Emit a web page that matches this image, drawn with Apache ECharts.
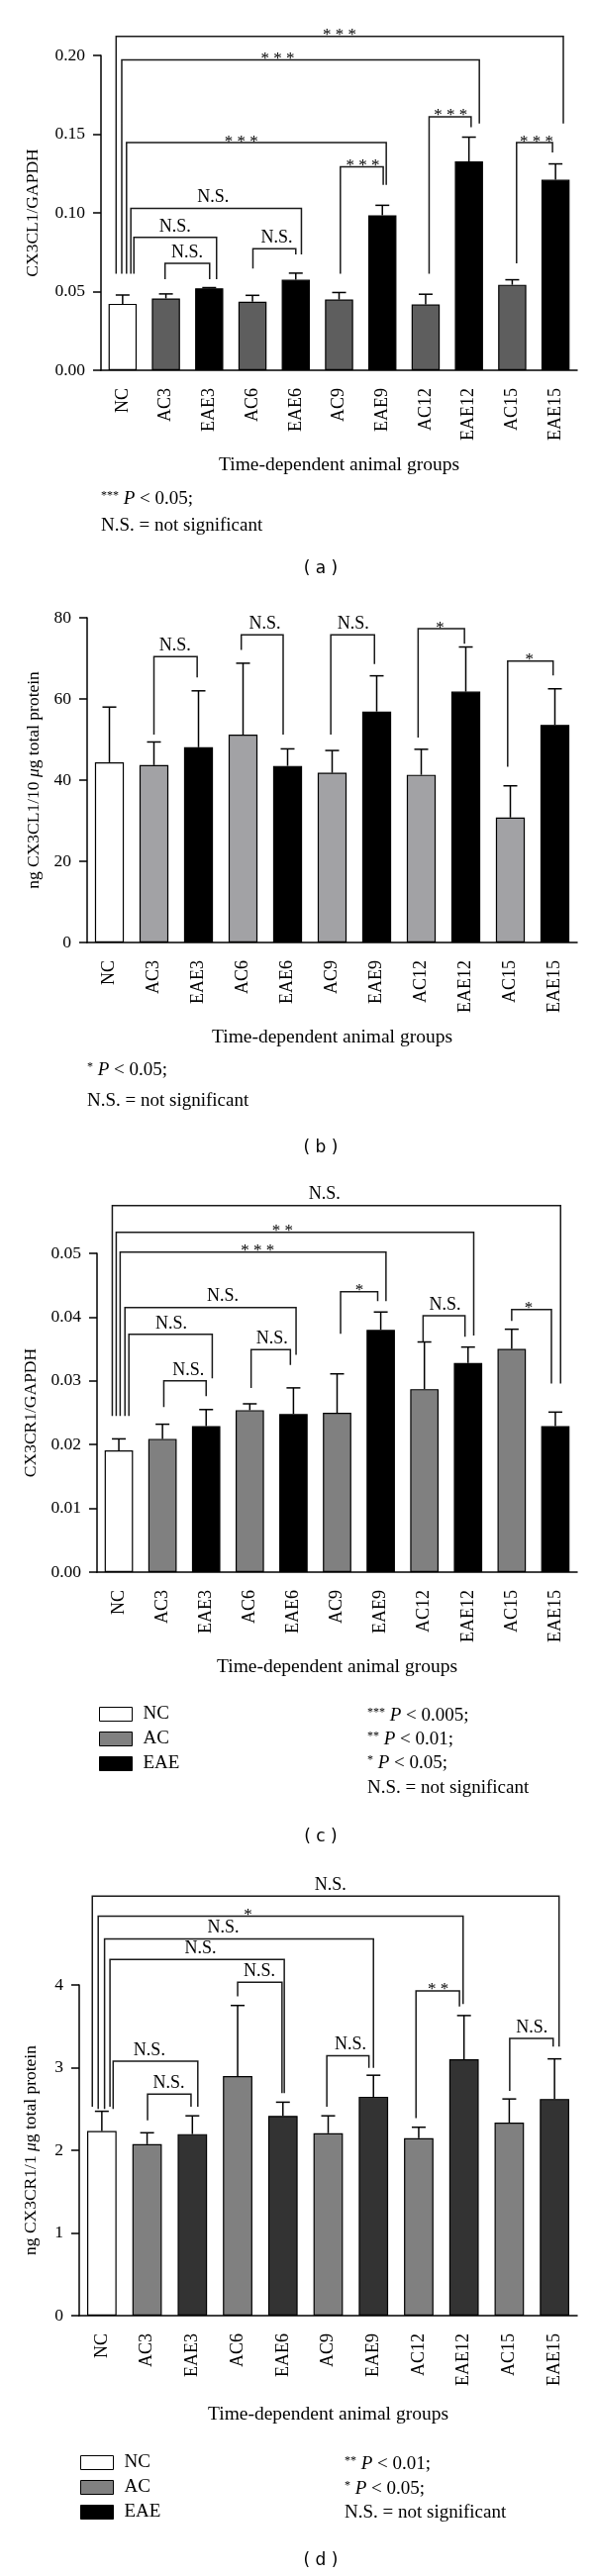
<!DOCTYPE html>
<html><head><meta charset="utf-8">
<script src="https://cdn.jsdelivr.net/npm/echarts@6/dist/echarts.min.js"></script>
<style>html,body{margin:0;padding:0;background:#fff}#c{width:600px;height:2602px}</style>
</head><body><div id="c"></div>
<script>
const categories = ['NC','AC3','EAE3','AC6','EAE6','AC9','EAE9','AC12','EAE12','AC15','EAE15'];
const groupOf = ['NC','AC','EAE','AC','EAE','AC','EAE','AC','EAE','AC','EAE'];
const groups = ['NC','AC','EAE'];

// (a) CX3CL1/GAPDH
const aValues = [0.0422,0.0456,0.0521,0.0435,0.0575,0.0449,0.0985,0.0418,0.1327,0.0543,0.1210];
const aErrTop = [0.0478,0.0485,0.0525,0.0476,0.0617,0.0494,0.1048,0.0483,0.1481,0.0575,0.1311];
// [leftPos, rightPos, top, leftEnd, rightEnd, labelPos, label]  (positions in category units)
const aBrackets = [
  [-0.15,10.18,0.2121,0.0613,0.1567,5.01,'***'],
  [-0.02,8.24,0.1971,0.0613,0.1567,3.58,'***'],
  [0.09,6.09,0.1446,0.0613,0.1178,2.74,'***'],
  [0.19,4.13,0.1028,0.0613,0.0736,2.09,'N.S.'],
  [0.26,2.17,0.0844,0.0613,0.0579,1.21,'N.S.'],
  [0.98,2.01,0.0680,0.0579,0.0579,1.49,'N.S.'],
  [3.01,4.00,0.0772,0.0646,0.0736,3.56,'N.S.'],
  [5.03,6.02,0.1293,0.0613,0.1178,5.55,'***'],
  [7.08,8.05,0.1610,0.0613,0.1544,7.58,'***'],
  [9.10,9.93,0.1446,0.0680,0.1383,9.56,'***']
];

// (b) ng CX3CL1 / 10 ug total protein
const bValues = [44.4,43.7,48.1,51.2,43.5,41.8,56.9,41.3,61.8,30.8,53.6];
const bErrTop = [58.0,49.4,62.0,68.8,47.7,47.3,65.7,47.6,72.8,38.6,62.5];
const bBrackets = [
  [1.00,1.97,70.4,51.2,65.3,1.47,'N.S.'],
  [2.96,3.90,75.8,72.1,51.2,3.49,'N.S.'],
  [4.97,5.95,75.8,51.2,68.6,5.47,'N.S.'],
  [6.93,7.97,77.3,50.5,73.6,7.42,'*'],
  [8.94,9.96,69.3,43.3,65.8,9.43,'*']
];

// (c) CX3CR1/GAPDH
const cValues = [0.0191,0.0209,0.0229,0.0254,0.0248,0.0250,0.0380,0.0287,0.0328,0.0350,0.0229];
const cErrTop = [0.0209,0.0232,0.0255,0.0264,0.0289,0.0311,0.0408,0.0361,0.0353,0.0381,0.0251];
const cBrackets = [
  [-0.15,10.12,0.0575,0.0245,0.0296,4.71,'N.S.'],
  [-0.06,8.13,0.0533,0.0245,0.0371,3.75,'**'],
  [0.03,6.12,0.0502,0.0245,0.0425,3.18,'***'],
  [0.14,4.06,0.0415,0.0245,0.0341,2.38,'N.S.'],
  [0.23,2.14,0.0373,0.0245,0.0304,1.20,'N.S.'],
  [1.03,2.00,0.0300,0.0259,0.0276,1.59,'N.S.'],
  [3.03,3.93,0.0349,0.0289,0.0325,3.51,'N.S.'],
  [5.08,5.93,0.0440,0.0374,0.0425,5.51,'*'],
  [6.97,7.93,0.0402,0.0361,0.0369,7.47,'N.S.'],
  [9.00,9.91,0.0412,0.0394,0.0296,9.39,'*']
];

// (d) ng CX3CR1 / 1 ug total protein
const dValues = [2.234,2.074,2.196,2.897,2.417,2.207,2.648,2.146,3.101,2.334,2.621];
const dErrTop = [2.472,2.212,2.417,3.752,2.582,2.417,2.908,2.279,3.630,2.621,3.106];
const dBrackets = [
  [-0.21,10.10,5.076,2.527,3.255,5.05,'N.S.'],
  [-0.08,7.98,4.833,2.500,3.768,3.23,'*'],
  [0.06,6.00,4.557,2.500,2.996,2.68,'N.S.'],
  [0.18,4.03,4.309,2.527,2.692,2.18,'N.S.'],
  [3.00,3.98,4.033,3.862,2.692,3.48,'N.S.'],
  [0.25,2.12,3.079,2.500,2.527,1.05,'N.S.'],
  [1.01,1.97,2.681,2.361,2.527,1.48,'N.S.'],
  [4.97,5.90,3.145,2.527,2.996,5.49,'N.S.'],
  [6.94,7.90,3.928,2.389,3.741,7.43,'**'],
  [9.01,9.97,3.354,2.720,3.255,9.50,'N.S.']
];

const yTicksA = [0, 0.2, 0.05];
const yTicksB = [0, 80, 20];
const yTicksC = [0, 0.05, 0.01];
const yTicksD = [0, 4, 1];

const SERIF = '"Liberation Serif", "Times New Roman", serif';
const SANS = '"DejaVu Sans", sans-serif';

const panels = [
  {values:aValues, err:aErrTop, brackets:aBrackets, ticks:yTicksA, dec:2,
   grid:{left:102, top:56, width:481, height:318}, name:'CX3CL1/GAPDH', nameGap:60, xNameGap:86,
   colors:{NC:'#ffffff', AC:'#5e5e5e', EAE:'#000000'}},
  {values:bValues, err:bErrTop, brackets:bBrackets, ticks:yTicksB, dec:0,
   grid:{left:88, top:624, width:495, height:328}, name:'ng CX3CL1/10 {i|μ}g total protein', nameGap:45, xNameGap:86,
   colors:{NC:'#ffffff', AC:'#a2a2a5', EAE:'#000000'}},
  {values:cValues, err:cErrTop, brackets:cBrackets, ticks:yTicksC, dec:2,
   grid:{left:98, top:1266, width:485, height:322}, name:'CX3CR1/GAPDH', nameGap:58, xNameGap:86,
   colors:{NC:'#ffffff', AC:'#808080', EAE:'#000000'}},
  {values:dValues, err:dErrTop, brackets:dBrackets, ticks:yTicksD, dec:0,
   grid:{left:80, top:2005, width:503, height:334}, name:'ng CX3CR1/1 {i|μ}g total protein', nameGap:40, xNameGap:90,
   colors:{NC:'#ffffff', AC:'#808080', EAE:'#333333'}}
];

function errRender(params, api){
  const i = api.value(0), v = api.value(1), e = api.value(2);
  const p0 = api.coord([i, v]); const p1 = api.coord([i, e]);
  return {type:'group', children:[
    {type:'line', shape:{x1:p0[0], y1:p0[1], x2:p1[0], y2:p1[1]}, style:{stroke:'#000', lineWidth:1.5}},
    {type:'line', shape:{x1:p1[0]-7, y1:p1[1], x2:p1[0]+7, y2:p1[1]}, style:{stroke:'#000', lineWidth:1.5}}
  ]};
}
function bracketRender(list){
  return function(params, api){
    const b = list[params.dataIndex];
    const bw = api.size([1,0])[0];
    const x0 = api.coord([0, 0])[0];
    const x1 = x0 + b[0]*bw, x2 = x0 + b[1]*bw;
    const yt = api.coord([0, b[2]])[1];
    const yl = api.coord([0, b[3]])[1];
    const yr = api.coord([0, b[4]])[1];
    const star = b[6].indexOf('*') >= 0;
    return {type:'group', children:[
      {type:'polyline', shape:{points:[[x1,yl],[x1,yt],[x2,yt],[x2,yr]]}, style:{stroke:'#1a1a1a', lineWidth:1.5, fill:null}},
      {type:'text', x: x0 + b[5]*bw, y: yt + (star ? -1 : -11),
       style:{text: star ? b[6].split('').join(' ') : b[6], align:'center', verticalAlign:'middle',
              fontFamily: SERIF, fontSize: star ? 17 : 18, fill:'#000'}}
    ]};
  };
}

const grids = [], xAxes = [], yAxes = [], series = [];
panels.forEach((p, k) => {
  grids.push(Object.assign({containLabel:false}, p.grid));
  xAxes.push({type:'category', gridIndex:k, data:categories,
    name:'Time-dependent animal groups', nameLocation:'middle', nameGap:p.xNameGap,
    nameTextStyle:{fontFamily:SERIF, fontSize:19.5, color:'#000'},
    axisLine:{lineStyle:{color:'#000', width:1.5}},
    axisTick:{alignWithLabel:true, length:8, lineStyle:{color:'#000', width:1.5}},
    axisLabel:{rotate:90, margin:18, fontFamily:SERIF, fontSize:18, color:'#000'}});
  yAxes.push({type:'value', gridIndex:k, min:p.ticks[0], max:p.ticks[1], interval:p.ticks[2],
    name:p.name, nameLocation:'middle', nameGap:p.nameGap, nameRotate:90,
    nameTextStyle:{fontFamily:SERIF, fontSize:17.5, color:'#000', rich:{i:{fontFamily:SERIF, fontSize:17.5, fontStyle:'italic', color:'#000'}}},
    axisLine:{show:true, lineStyle:{color:'#000', width:1.5}},
    axisTick:{show:true, length:8, lineStyle:{color:'#000', width:1.5}},
    splitLine:{show:false},
    axisLabel:{margin:16, fontFamily:SERIF, fontSize:17.5, color:'#000', formatter:v => v.toFixed(p.dec)}});
  groups.forEach(g => {
    series.push({type:'bar', name:g, xAxisIndex:k, yAxisIndex:k, barWidth:'65%', barGap:'-100%', silent:true,
      itemStyle:{color:p.colors[g], borderColor:'#000', borderWidth:1.2},
      data:p.values.map((v,i) => groupOf[i] === g ? v : '-')});
  });
  series.push({type:'custom', xAxisIndex:k, yAxisIndex:k, silent:true, clip:false, z:5,
    renderItem:errRender, data:p.values.map((v,i) => [i, v, p.err[i]])});
  series.push({type:'custom', xAxisIndex:k, yAxisIndex:k, silent:true, clip:false, z:5,
    renderItem:bracketRender(p.brackets), data:p.brackets.map(b => [0, b[2]])});
});

const legendCommon = {orient:'vertical', selectedMode:false, itemWidth:33, itemHeight:14, itemGap:6, padding:0,
  icon:'rect', itemStyle:{borderColor:'#000', borderWidth:1},
  textStyle:{fontFamily:SERIF, fontSize:19, color:'#000', padding:[0,0,0,6]}};
const legends = [
  Object.assign({}, legendCommon, {left:100, top:1722, data:[
    {name:'NC', itemStyle:{color:'#ffffff'}}, {name:'AC', itemStyle:{color:'#808080'}}, {name:'EAE', itemStyle:{color:'#000000'}}]}),
  Object.assign({}, legendCommon, {left:81, top:2478, data:[
    {name:'NC', itemStyle:{color:'#ffffff'}}, {name:'AC', itemStyle:{color:'#808080'}}, {name:'EAE', itemStyle:{color:'#000000'}}]})
];

function note(x, y, text){
  return {type:'text', x:x, y:y, silent:true, style:{text:text, verticalAlign:'middle', fontFamily:SERIF, fontSize:19, fill:'#000',
    rich:{s:{fontFamily:SERIF, fontSize:12, verticalAlign:'top', fill:'#000'}, i:{fontFamily:SERIF, fontSize:19, fontStyle:'italic', fill:'#000'}}}};
}
function caption(y, t){
  return {type:'text', x:324, y:y, silent:true, style:{text:t, align:'center', verticalAlign:'middle', fontFamily:SANS, fontSize:17, fill:'#000'}};
}
const graphics = [
  note(102, 504, '{s|***} {i|P} < 0.05;'), note(102, 531, 'N.S. = not significant'), caption(575, '( a )'),
  note(88, 1081, '{s|*} {i|P} < 0.05;'), note(88, 1112, 'N.S. = not significant'), caption(1160, '( b )'),
  note(371, 1733, '{s|***} {i|P} < 0.005;'), note(371, 1757, '{s|**} {i|P} < 0.01;'), note(371, 1781, '{s|*} {i|P} < 0.05;'),
  note(371, 1806, 'N.S. = not significant'), caption(1856, '( c )'),
  note(348, 2489, '{s|**} {i|P} < 0.01;'), note(348, 2514, '{s|*} {i|P} < 0.05;'), note(348, 2538, 'N.S. = not significant'),
  caption(2587, '( d )')
];

const chart = echarts.init(document.getElementById('c'), null, {renderer:'canvas'});
chart.setOption({animation:false, backgroundColor:'#fff', grid:grids, xAxis:xAxes, yAxis:yAxes, series:series,
  legend:legends, graphic:graphics});
</script></body></html>
